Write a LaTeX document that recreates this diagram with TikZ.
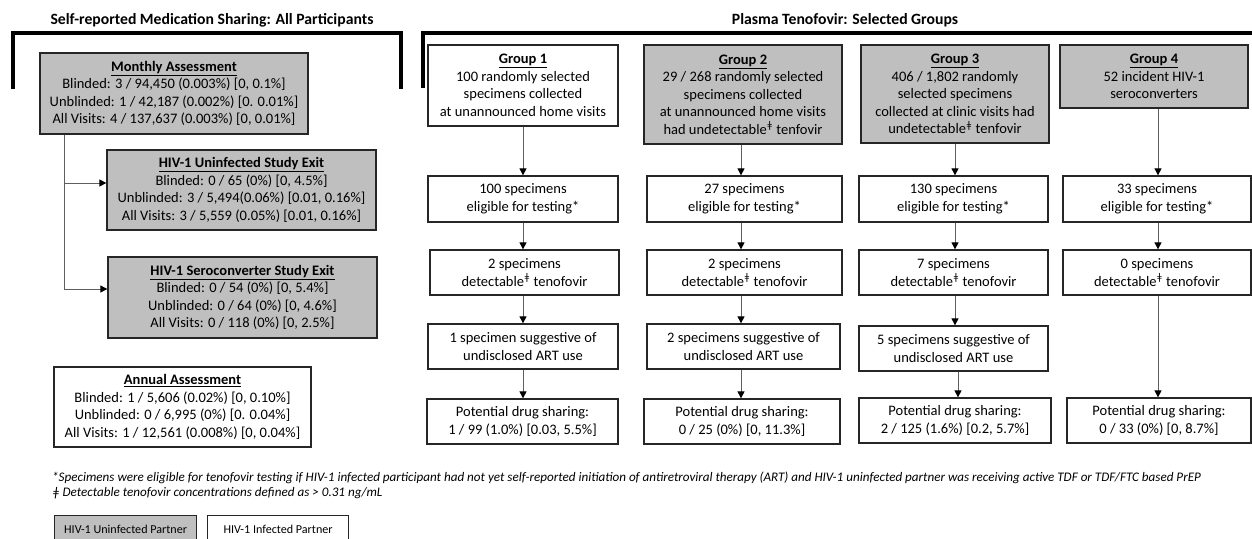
\documentclass[tikz,border=0pt]{standalone}
\usepackage{fontspec}
\setmainfont{Carlito}
\usetikzlibrary{arrows.meta}
\definecolor{boxgray}{RGB}{191,191,191}
\definecolor{lineg}{RGB}{95,95,95}
\newcommand\dtk{\textsuperscript{ǂ}}
\begin{document}
\begin{tikzpicture}[x=1pt,y=-1pt,
  bx/.style={draw=black!85,line width=1.3pt,inner sep=0pt,align=center,font=\fontsize{14.5}{17.5}\selectfont},
  gbx/.style={bx,fill=boxgray},
  wbx/.style={bx,fill=white},
  arr/.style={draw=lineg,line width=1pt,-{Triangle[length=7pt,width=7pt,color=black]}},
  brk/.style={line width=4pt,black},
  ttl/.style={font=\fontsize{15.7}{18}\selectfont\bfseries},
  fn/.style={anchor=west,inner sep=0pt,font=\fontsize{13.1}{15}\selectfont\itshape},
  lg/.style={draw=black!85,line width=1.2pt,inner sep=0pt,font=\fontsize{12.1}{14}\selectfont}]
\useasboundingbox (0,0) rectangle (1252,538);
\clip (0,0) rectangle (1252,538);
% titles and brackets
\node[ttl] (t1) at (212,20) {Self-reported Medication Sharing: All Participants};
\node[ttl] (t2) at (845,20) {Plasma Tenofovir: Selected Groups};
\draw[brk] (13,89) -- (13,33) -- (401,33) -- (401,89);
\draw[brk] (423,88) -- (423,33) -- (1254,33);
% left column
\node[gbx,minimum width=268,minimum height=81] (mon) at (174,93.5) {\textbf{\underline{Monthly Assessment}}\\Blinded: 3 / 94,450 (0.003\%) [0, 0.1\%]\\Unblinded: 1 / 42,187 (0.002\%) [0. 0.01\%]\\All Visits: 4 / 137,637 (0.003\%) [0, 0.01\%]};
\node[gbx,minimum width=269,minimum height=80] (unx) at (241.5,190) {\textbf{\underline{HIV-1 Uninfected Study Exit}}\\Blinded: 0 / 65 (0\%) [0, 4.5\%]\\Unblinded: 3 / 5,494(0.06\%) [0.01, 0.16\%]\\All Visits: 3 / 5,559 (0.05\%) [0.01, 0.16\%]};
\node[gbx,minimum width=269,minimum height=81] (ser) at (242.5,297.5) {\textbf{\underline{HIV-1 Seroconverter Study Exit}}\\Blinded: 0 / 54 (0\%) [0, 5.4\%]\\Unblinded: 0 / 64 (0\%) [0, 4.6\%]\\All Visits: 0 / 118 (0\%) [0, 2.5\%]};
\node[wbx,minimum width=257,minimum height=80] (ann) at (182.5,407) {\textbf{\underline{Annual Assessment}}\\Blinded: 1 / 5,606 (0.02\%) [0, 0.10\%]\\Unblinded: 0 / 6,995 (0\%) [0. 0.04\%]\\All Visits: 1 / 12,561 (0.008\%) [0, 0.04\%]};
\coordinate (cl) at (64,0);
\coordinate (b1) at (64,183);
\coordinate (b2) at (64,289);
\draw[draw=lineg,line width=1pt] (mon.south -| cl) -- (b2);
\draw[arr] (b1) -- (b1 -| unx.west);
\draw[arr] (b2) -- (b2 -| ser.west);
% groups
\node[wbx,minimum width=190,minimum height=81] (g1) at (523,85.5) {\textbf{\underline{Group 1}}\\100 randomly selected\\specimens collected\\at unannounced home visits};
\node[gbx,minimum width=198,minimum height=99] (g2) at (743,94.5) {\textbf{\underline{Group 2}}\\29 / 268 randomly selected\\specimens collected\\at unannounced home visits\\had undetectable\dtk{} tenfovir};
\node[gbx,minimum width=188,minimum height=98] (g3) at (955,94) {\textbf{\underline{Group 3}}\\406 / 1,802 randomly\\selected specimens\\collected at clinic visits had\\undetectable\dtk{} tenfovir};
\node[gbx,minimum width=188,minimum height=63] (g4) at (1154,76.5) {\textbf{\underline{Group 4}}\\52 incident HIV-1\\seroconverters};
% row 2
\node[wbx,minimum width=190,minimum height=46] (e1) at (523,199) {100 specimens\\eligible for testing*};
\node[wbx,minimum width=195,minimum height=46] (e2) at (744.5,199) {27 specimens\\eligible for testing*};
\node[wbx,minimum width=189,minimum height=46] (e3) at (953.5,199) {130 specimens\\eligible for testing*};
\node[wbx,minimum width=188,minimum height=46] (e4) at (1157,199) {33 specimens\\eligible for testing*};
% row 3
\node[wbx,minimum width=189,minimum height=45] (d1) at (524.5,272.5) {2 specimens\\detectable\dtk{} tenofovir};
\node[wbx,minimum width=195,minimum height=45] (d2) at (744.5,272.5) {2 specimens\\detectable\dtk{} tenofovir};
\node[wbx,minimum width=189,minimum height=45] (d3) at (953.5,272.5) {7 specimens\\detectable\dtk{} tenofovir};
\node[wbx,minimum width=188,minimum height=45] (d4) at (1157,272.5) {0 specimens\\detectable\dtk{} tenofovir};
% row 4
\node[wbx,minimum width=190,minimum height=45] (s1) at (523,346.5) {1 specimen suggestive of\\undisclosed ART use};
\node[wbx,minimum width=193,minimum height=45] (s2) at (743.5,346.5) {2 specimens suggestive of\\undisclosed ART use};
\node[wbx,minimum width=189,minimum height=45] (s3) at (953.5,348.5) {5 specimens suggestive of\\undisclosed ART use};
% row 5
\node[wbx,minimum width=191,minimum height=45] (p1) at (522.5,421.5) {Potential drug sharing:\\1 / 99 (1.0\%) [0.03, 5.5\%]};
\node[wbx,minimum width=196,minimum height=45] (p2) at (742,421.5) {Potential drug sharing:\\0 / 25 (0\%) [0, 11.3\%]};
\node[wbx,minimum width=192,minimum height=45] (p3) at (955,420.5) {Potential drug sharing:\\2 / 125 (1.6\%) [0.2, 5.7\%]};
\node[wbx,minimum width=184,minimum height=45] (p4) at (1159,420.5) {Potential drug sharing:\\0 / 33 (0\%) [0, 8.7\%]};
% column arrows
\coordinate (c1) at (523,0);
\coordinate (c2) at (741,0);
\coordinate (c3) at (955,0);
\coordinate (c3b) at (958,0);
\coordinate (c4) at (1158,0);
\foreach \a/\b in {g1/e1,e1/d1,d1/s1,s1/p1}{\draw[arr] (\a.south -| c1) -- (\b.north -| c1);}
\foreach \a/\b in {g2/e2,e2/d2,d2/s2,s2/p2}{\draw[arr] (\a.south -| c2) -- (\b.north -| c2);}
\foreach \a/\b in {g3/e3,e3/d3,d3/s3}{\draw[arr] (\a.south -| c3) -- (\b.north -| c3);}
\draw[arr] (s3.south -| c3b) -- (p3.north -| c3b);
\foreach \a/\b in {g4/e4,e4/d4,d4/p4}{\draw[arr] (\a.south -| c4) -- (\b.north -| c4);}
% footnotes
\node[fn] (fn1) at (52,478) {*Specimens were eligible for tenofovir testing if HIV-1 infected participant had not yet self-reported initiation of antiretroviral therapy (ART) and HIV-1 uninfected partner was receiving active TDF or TDF/FTC based PrEP};
\node[fn] (fn2) at (52,493) {ǂ Detectable tenofovir concentrations defined as > 0.31 ng/mL};
% legend
\node[lg,fill=boxgray,minimum width=142,minimum height=28,anchor=north west] (l1) at (54,515) {HIV-1 Uninfected Partner};
\node[lg,fill=white,minimum width=141,minimum height=28,anchor=north west] (l2) at (207,515) {HIV-1 Infected Partner};
\end{tikzpicture}
\end{document}
